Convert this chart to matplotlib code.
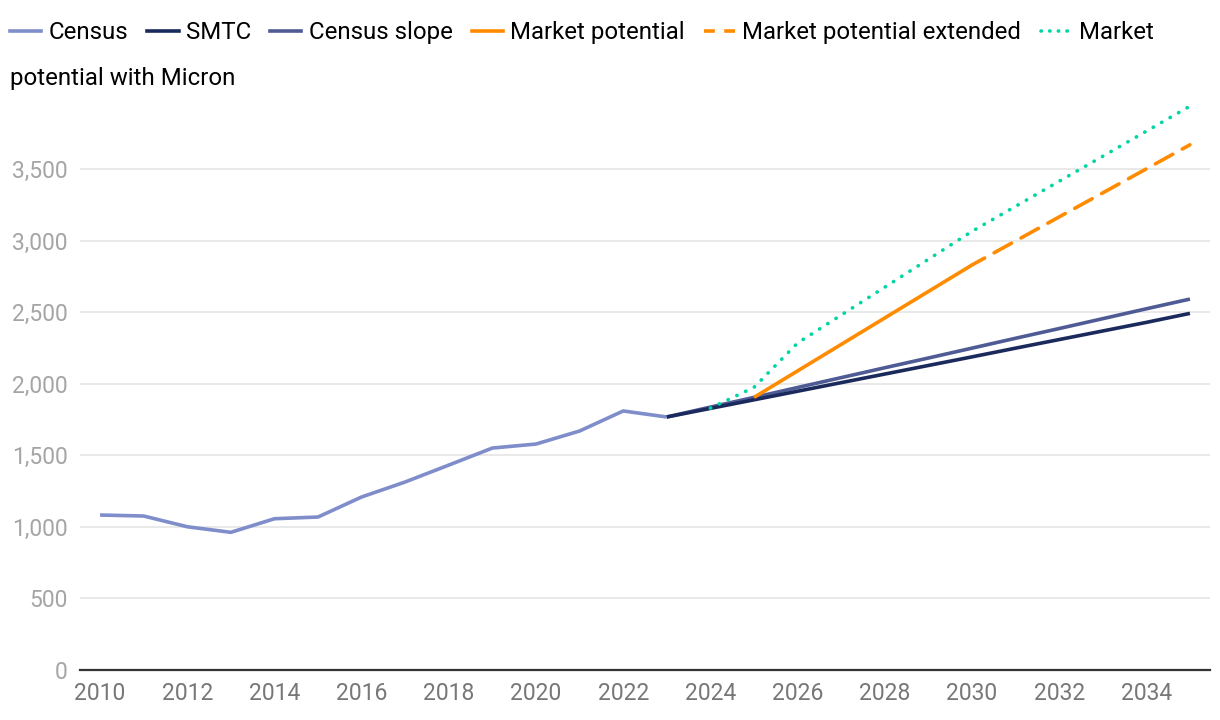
import matplotlib
matplotlib.use("Agg")
from matplotlib import pyplot as plt
from matplotlib.lines import Line2D

plt.rcParams['font.family'] = ['Roboto', 'DejaVu Sans']

# data
census_years = list(range(2010, 2024))
census = [1083, 1076, 1001, 962, 1057, 1069, 1209, 1314, 1432, 1551, 1579, 1670, 1810, 1768]

proj_years = list(range(2023, 2036))
smtc = [1768, 1828, 1888, 1948, 2008, 2068, 2128, 2188, 2249, 2309, 2369, 2429, 2492]
census_slope = [1768, 1837, 1905, 1974, 2043, 2112, 2180, 2249, 2318, 2386, 2455, 2524, 2592]

mp_years = list(range(2025, 2031))
market_potential = [1905, 2090, 2275, 2460, 2645, 2830]

mpx_years = list(range(2030, 2036))
market_potential_ext = [2830, 2998, 3166, 3334, 3502, 3670]

micron_years = list(range(2024, 2036))
micron = [1830, 1975, 2285, 2480, 2675, 2870, 3065, 3240, 3415, 3590, 3765, 3940]

labels = ['Census', 'SMTC', 'Census slope', 'Market potential',
          'Market potential extended', 'Market']
colors = ['#7f8dca', '#1b2a5c', '#4f5b94', '#ff8c00', '#ff8c00', '#00d6a3']

fig = plt.figure(figsize=(12.2, 7.2), dpi=100)
ax = fig.add_axes([80 / 1220, 50 / 720, 1130 / 1220, 571 / 720])

lw = 2.6
ax.plot(census_years, census, color=colors[0], lw=lw, solid_capstyle='butt')
ax.plot(proj_years, census_slope, color=colors[2], lw=lw, solid_capstyle='butt')
ax.plot(proj_years, smtc, color=colors[1], lw=lw, solid_capstyle='butt')
ax.plot(micron_years, micron, color=colors[5], lw=lw, linestyle=(0, (0.1, 2.6)),
        dash_capstyle='round')
ax.plot(mp_years, market_potential, color=colors[3], lw=lw, solid_capstyle='butt')
ax.plot(mpx_years, market_potential_ext, color=colors[4], lw=lw,
        linestyle=(1.5, (5.5, 3.0)), dash_capstyle='round')

ax.set_xlim(2009.54, 2035.46)
ax.set_ylim(0, 3990)
ax.set_xticks(range(2010, 2035, 2))
ax.set_yticks(range(0, 4000, 500))
ax.set_yticklabels([f'{v:,}' for v in range(0, 4000, 500)])

ax.grid(axis='y', color='#e5e5e5', lw=1.2)
ax.set_axisbelow(True)
for s in ['top', 'right', 'left']:
    ax.spines[s].set_visible(False)
ax.spines['bottom'].set_color('#333333')
ax.spines['bottom'].set_linewidth(1.6)
ax.tick_params(axis='both', length=0, labelsize=16.5)
ax.tick_params(axis='x', colors='#777777', pad=9)
ax.tick_params(axis='y', colors='#a5a5a5', pad=9)

# legend (wraps onto a second line like the original)
handles = [
    Line2D([], [], color=colors[0], lw=lw),
    Line2D([], [], color=colors[1], lw=lw),
    Line2D([], [], color=colors[2], lw=lw),
    Line2D([], [], color=colors[3], lw=lw),
    Line2D([], [], color=colors[4], lw=lw, linestyle=(0, (3.0, 2.6))),
    Line2D([], [], color=colors[5], lw=lw, linestyle=(0, (0.1, 2.3)), dash_capstyle='round'),
]
fig.legend(handles, labels, ncol=6, loc='upper left',
           bbox_to_anchor=(10 / 1220, 1 - 21 / 720),
           frameon=False, fontsize=17.3, handlelength=1.3, handletextpad=0.3,
           columnspacing=0.8, borderaxespad=0.0, borderpad=0.0)
fig.text(10 / 1220, 1 - 78 / 720, 'potential with Micron', fontsize=17.3,
         va='center', ha='left', color='black')

fig.savefig('out.png', dpi=100)
